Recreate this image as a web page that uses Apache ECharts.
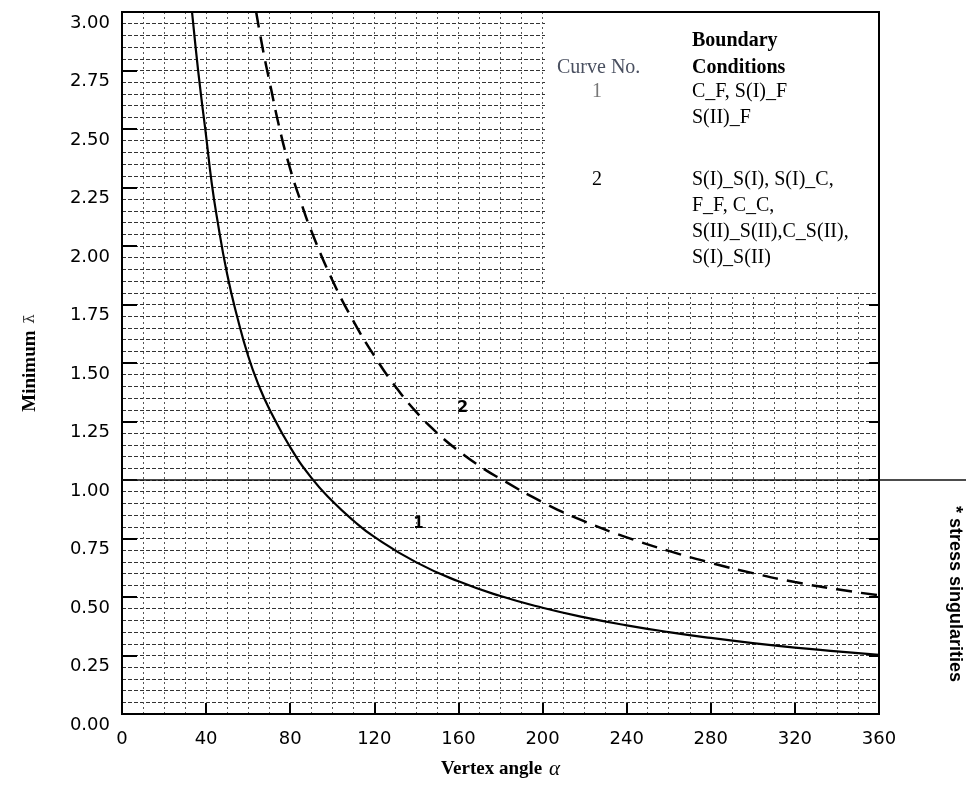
<!DOCTYPE html>
<html>
<head>
<meta charset="utf-8">
<script src="https://cdn.jsdelivr.net/npm/echarts@6/dist/echarts.min.js"></script>
<style>
  html, body { margin: 0; padding: 0; background: #fff; }
  #chart { width: 966px; height: 785px; }
</style>
</head>
<body>
<div id="chart"></div>
<script>
// Curve 1: C_F, S(I)_F, S(II)_F  — vertex angle (deg) vs minimum lambda
const curve1Angle  = [33.3, 35, 37.5, 40, 42.5, 45, 50, 55, 60, 65, 70, 80, 90, 100, 110, 120, 140, 160, 180, 200, 220, 240, 260, 280, 300, 320, 340, 360];
const curve1Lambda = [3.00, 2.85, 2.65, 2.47, 2.28, 2.13, 1.88, 1.69, 1.53, 1.405, 1.305, 1.14, 1.01, 0.91, 0.827, 0.757, 0.648, 0.567, 0.504, 0.454, 0.413, 0.379, 0.350, 0.325, 0.303, 0.284, 0.268, 0.253];

// Curve 2: the remaining boundary conditions (dashed)
const curve2Angle  = [63.8, 67, 70, 75, 80, 85, 90, 100, 110, 120, 130, 140, 150, 160, 170, 180, 200, 220, 240, 260, 280, 300, 320, 340, 360];
const curve2Lambda = [3.00, 2.84, 2.71, 2.50, 2.33, 2.19, 2.065, 1.855, 1.68, 1.53, 1.40, 1.29, 1.20, 1.125, 1.06, 1.005, 0.905, 0.823, 0.755, 0.697, 0.646, 0.602, 0.564, 0.533, 0.507];

// level above which stress singularities vanish
const refLevel = 1.0;

// legend table text
const curveNos = ['1', '2'];
const conditionLines = [
  ['C_F, S(I)_F', 'S(II)_F'],
  ['S(I)_S(I), S(I)_C,', 'F_F, C_C,', 'S(II)_S(II),C_S(II),', 'S(I)_S(II)']
];

const serif = "'Liberation Serif', 'Times New Roman', serif";
const sans = "'DejaVu Sans', sans-serif";

const chart = echarts.init(document.getElementById('chart'));

const dashH = { color: '#333', width: 1, type: [4, 2] };
const dashV = { color: '#555', width: 1, type: [2, 3] };

const option = {
  animation: false,
  backgroundColor: '#fff',
  grid: { left: 122, right: 87, top: 12, bottom: 64, show: true, borderColor: '#000', borderWidth: 2 },
  xAxis: [
    {
      type: 'value', min: 0, max: 360, interval: 40,
      axisLine: { show: true, onZero: false, lineStyle: { color: '#000', width: 2 } },
      axisTick: { show: true, inside: true, length: 11, lineStyle: { color: '#000', width: 2 } },
      axisLabel: { color: '#000', fontFamily: sans, fontSize: 18, margin: 16 },
      splitLine: { show: true, lineStyle: dashV },
      minorTick: { show: false, splitNumber: 4 },
      minorSplitLine: { show: true, lineStyle: dashV },
      name: '{b|Vertex angle}  {i|α}',
      nameLocation: 'middle',
      nameGap: 45,
      nameTextStyle: {
        rich: {
          b: { fontFamily: serif, fontWeight: 'bold', fontSize: 19, color: '#000' },
          i: { fontFamily: serif, fontStyle: 'italic', fontSize: 21, color: '#000' }
        }
      }
    },
    {
      type: 'value', position: 'top', min: 0, max: 360, interval: 40,
      axisLine: { show: true, onZero: false, lineStyle: { color: '#000', width: 2 } },
      axisTick: { show: false },
      axisLabel: { show: false },
      splitLine: { show: false }
    }
  ],
  yAxis: [
    {
      type: 'value', min: 0, max: 3, interval: 0.25,
      axisLine: { show: true, onZero: false, lineStyle: { color: '#000', width: 2 } },
      axisTick: { show: true, inside: true, length: 15, lineStyle: { color: '#000', width: 2 } },
      axisLabel: {
        color: '#000', fontFamily: sans, fontSize: 18, margin: 12,
        verticalAlign: 'top', padding: [2, 0, 0, 0],
        formatter: v => v.toFixed(2)
      },
      splitLine: { show: true, lineStyle: dashH },
      minorTick: { show: false, splitNumber: 5 },
      minorSplitLine: { show: true, lineStyle: dashH },
      name: '{b|Minimum}  {l|\u03BB\u0304}',
      nameLocation: 'middle',
      nameGap: 82,
      nameTextStyle: {
        rich: {
          b: { fontFamily: serif, fontWeight: 'bold', fontSize: 19, color: '#000' },
          l: { fontFamily: "'DejaVu Serif', serif", fontSize: 15, color: '#333' }
        }
      }
    },
    {
      type: 'value', position: 'right', min: 0, max: 3, interval: 0.25,
      axisLine: { show: true, onZero: false, lineStyle: { color: '#000', width: 2 } },
      axisTick: { show: true, inside: true, length: 10, lineStyle: { color: '#000', width: 2 } },
      axisLabel: { show: false },
      splitLine: { show: false }
    }
  ],
  series: [
    {
      name: '1', type: 'line', smooth: 0.5, symbol: 'none',
      data: curve1Angle.map((a, i) => [a, curve1Lambda[i]]),
      lineStyle: { color: '#000', width: 2.2 },
      markPoint: {
        symbol: 'circle', symbolSize: 0,
        label: { show: true, position: 'inside', formatter: '1', fontFamily: sans, fontWeight: 'bold', fontSize: 15, color: '#000' },
        data: [{ coord: [141, 0.81] }]
      }
    },
    {
      name: '2', type: 'line', smooth: 0.5, symbol: 'none',
      data: curve2Angle.map((a, i) => [a, curve2Lambda[i]]),
      lineStyle: { color: '#000', width: 2.5, type: [16, 9] },
      markPoint: {
        symbol: 'circle', symbolSize: 0,
        label: { show: true, position: 'inside', formatter: '2', fontFamily: sans, fontWeight: 'bold', fontSize: 16, color: '#000' },
        data: [{ coord: [162, 1.31] }]
      }
    }
  ]
};

chart.setOption(option);

// legend table (white box over the grid, top right)
const textFont = size => ({ fontFamily: serif, fontSize: size });
const graphics = [
  { type: 'rect', z: 50, shape: { x: 545, y: 13, width: 333, height: 280 }, style: { fill: '#fff' } },
  { type: 'text', z: 51, style: { x: 692, y: 41, text: 'Boundary', ...textFont(20), fontWeight: 'bold', fill: '#000', verticalAlign: 'middle' } },
  { type: 'text', z: 51, style: { x: 557, y: 68, text: 'Curve No.', ...textFont(20), fill: '#4a5060', verticalAlign: 'middle' } },
  { type: 'text', z: 51, style: { x: 692, y: 68, text: 'Conditions', ...textFont(20), fontWeight: 'bold', fill: '#000', verticalAlign: 'middle' } }
];
const groupTop = [92, 180];
curveNos.forEach((no, g) => {
  graphics.push({ type: 'text', z: 51, style: { x: 597, y: groupTop[g], text: no, ...textFont(20), fill: g === 0 ? '#777' : '#000', align: 'center', verticalAlign: 'middle' } });
  conditionLines[g].forEach((line, k) => {
    graphics.push({ type: 'text', z: 51, style: { x: 692, y: groupTop[g] + k * 26, text: line, ...textFont(20), fill: '#000', verticalAlign: 'middle' } });
  });
});

// reference line at lambda = 1, running past the right border
const p0 = chart.convertToPixel({ gridIndex: 0 }, [0, refLevel]);
graphics.push({ type: 'line', z: 40, shape: { x1: p0[0], y1: p0[1], x2: chart.getWidth(), y2: p0[1] }, style: { stroke: '#111', lineWidth: 1.5 } });

// side note
graphics.push({
  type: 'text', z: 51, x: 955, y: 594, rotation: -Math.PI / 2,
  style: { x: 0, y: 0, text: '* stress singularities', fontFamily: "'Liberation Sans', Arial, sans-serif", fontWeight: 'bold', fontSize: 18, fill: '#000', align: 'center', verticalAlign: 'middle' }
});

chart.setOption({ graphic: graphics });
</script>
</body>
</html>
